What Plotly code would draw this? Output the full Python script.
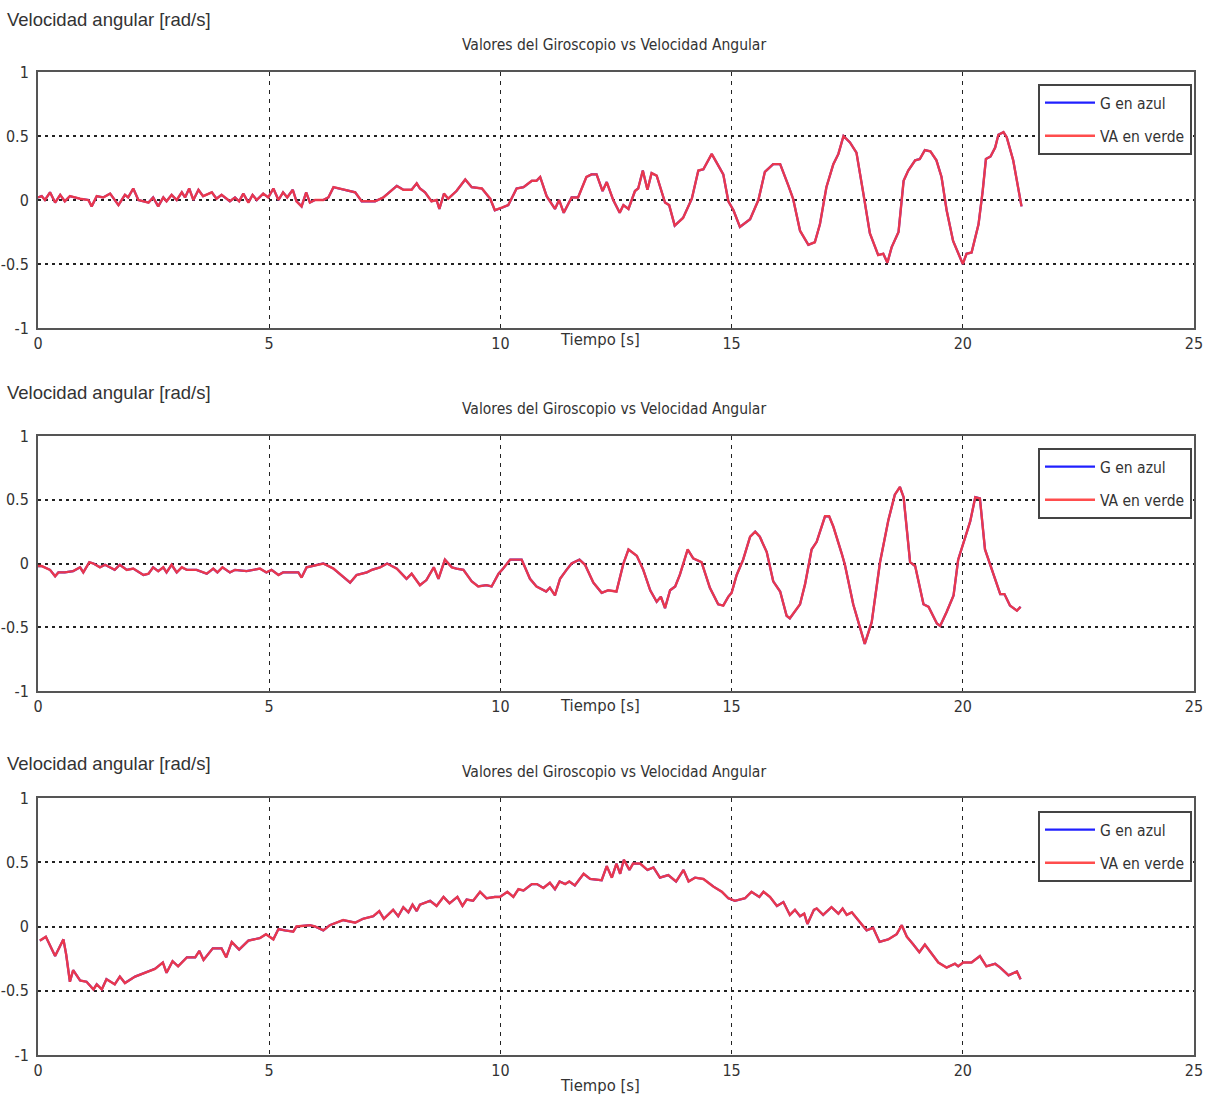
import plotly.graph_objects as go

# ---------------- data (time in s, angular velocity in rad/s) ----------------
t1 = [0.0, 0.08, 0.15, 0.26, 0.37, 0.48, 0.58, 0.69, 0.91, 1.09, 1.16, 1.27, 1.41, 1.56, 1.74,
      1.88, 1.95, 2.06, 2.17, 2.39, 2.49, 2.60, 2.71, 2.78, 2.89, 3.00, 3.11, 3.18, 3.27, 3.36,
      3.47, 3.57, 3.76, 3.86, 3.97, 4.15, 4.26, 4.35, 4.44, 4.55, 4.64, 4.73, 4.87, 4.98, 5.09,
      5.20, 5.30, 5.39, 5.51, 5.59, 5.70, 5.80, 5.88, 5.99, 6.17, 6.28, 6.39, 6.60, 6.86, 7.00,
      7.29, 7.47, 7.61, 7.76, 7.90, 8.08, 8.19, 8.26, 8.37, 8.51, 8.62, 8.68, 8.78, 8.87, 9.05,
      9.24, 9.38, 9.60, 9.78, 9.88, 10.03, 10.17, 10.35, 10.50, 10.68, 10.78, 10.86, 11.00,
      11.18, 11.27, 11.37, 11.54, 11.68, 11.86, 11.97, 12.08, 12.21, 12.30, 12.44, 12.58,
      12.66, 12.77, 12.91, 12.98, 13.08, 13.18, 13.27, 13.38, 13.56, 13.65, 13.77, 13.95,
      14.14, 14.28, 14.39, 14.57, 14.68, 14.82, 14.93, 15.04, 15.18, 15.40, 15.58, 15.72,
      15.90, 16.05, 16.23, 16.33, 16.48, 16.66, 16.80, 16.91, 17.05, 17.20, 17.31, 17.42,
      17.56, 17.70, 17.85, 17.99, 18.17, 18.28, 18.37, 18.46, 18.61, 18.72, 18.82, 18.97,
      19.07, 19.18, 19.30, 19.43, 19.54, 19.65, 19.79, 19.90, 20.00, 20.08, 20.19, 20.34,
      20.43, 20.50, 20.60, 20.70, 20.77, 20.88, 20.95, 21.09, 21.27]
va1 = [0.02, 0.03, 0.0, 0.06, -0.02, 0.04, -0.01, 0.03, 0.01, 0.0, -0.05, 0.03, 0.02, 0.05, -0.04,
       0.04, 0.02, 0.09, 0.0, -0.02, 0.02, -0.05, 0.02, -0.01, 0.04, 0.0, 0.06, 0.02, 0.09, 0.0,
       0.08, 0.03, 0.06, 0.01, 0.04, -0.01, 0.02, -0.01, 0.05, -0.02, 0.04, 0.0, 0.05, 0.02, 0.09,
       0.0, 0.06, 0.02, 0.08, -0.01, -0.05, 0.06, -0.02, 0.0, 0.0, 0.02, 0.10, 0.08, 0.06, -0.01,
       -0.01, 0.02, 0.06, 0.11, 0.08, 0.08, 0.13, 0.09, 0.06, -0.01, 0.0, -0.07, 0.05, 0.01, 0.07,
       0.16, 0.10, 0.09, 0.01, -0.08, -0.06, -0.04, 0.09, 0.10, 0.15, 0.15, 0.18, 0.03,
       -0.07, 0.0, -0.10, 0.02, 0.02, 0.18, 0.20, 0.20, 0.07, 0.14, 0.0, -0.10,
       -0.04, -0.07, 0.07, 0.09, 0.23, 0.08, 0.21, 0.19, -0.02, -0.04, -0.20, -0.14,
       0.01, 0.23, 0.24, 0.36, 0.29, 0.20, -0.01, -0.08, -0.21, -0.15, 0.0, 0.22,
       0.28, 0.28, 0.11, 0.01, -0.24, -0.35, -0.33, -0.19, 0.10, 0.28, 0.36, 0.50,
       0.45, 0.37, 0.05, -0.26, -0.43, -0.42, -0.49, -0.37, -0.25, 0.15, 0.23, 0.31,
       0.32, 0.39, 0.38, 0.31, 0.18, -0.08, -0.32, -0.41, -0.50, -0.42, -0.41, -0.19,
       0.07, 0.32, 0.34, 0.41, 0.51, 0.53, 0.49, 0.31, -0.05]
g1 = va1

t2 = [0.0, 0.08, 0.26, 0.37, 0.44, 0.58, 0.76, 0.91, 0.98, 1.11, 1.20, 1.34, 1.45, 1.66, 1.77,
      1.92, 2.06, 2.28, 2.39, 2.49, 2.60, 2.71, 2.78, 2.89, 3.00, 3.11, 3.22, 3.43, 3.65, 3.79,
      3.88, 3.99, 4.15, 4.26, 4.51, 4.80, 4.94, 5.05, 5.20, 5.30, 5.63, 5.70, 5.81, 5.95, 6.17,
      6.39, 6.60, 6.75, 6.89, 7.11, 7.22, 7.40, 7.55, 7.76, 7.97, 8.08, 8.26, 8.40, 8.56, 8.66,
      8.80, 8.95, 9.05, 9.20, 9.38, 9.52, 9.70, 9.81, 9.96, 10.06, 10.21, 10.35, 10.46, 10.64,
      10.78, 10.99, 11.07, 11.18, 11.29, 11.43, 11.54, 11.71, 11.83, 12.01, 12.19, 12.33,
      12.51, 12.66, 12.77, 12.95, 13.09, 13.24, 13.38, 13.47, 13.56, 13.67, 13.78, 13.88,
      14.05, 14.17, 14.35, 14.53, 14.71, 14.82, 14.93, 15.00, 15.11, 15.25, 15.40, 15.51,
      15.61, 15.76, 15.90, 16.05, 16.19, 16.26, 16.48, 16.59, 16.73, 16.84, 17.02, 17.11,
      17.20, 17.38, 17.45, 17.63, 17.78, 17.88, 18.03, 18.21, 18.39, 18.53, 18.64, 18.72,
      18.86, 18.97, 19.15, 19.26, 19.44, 19.51, 19.65, 19.80, 19.90, 20.01, 20.16, 20.27,
      20.37, 20.48, 20.59, 20.81, 20.90, 21.02, 21.17, 21.25]
va2 = [-0.02, -0.02, -0.05, -0.10, -0.07, -0.07, -0.06, -0.03, -0.07, 0.01, 0.0, -0.03, -0.01,
       -0.05, -0.01, -0.05, -0.04, -0.09, -0.08, -0.03, -0.06, -0.03, -0.07, -0.01, -0.07, -0.03,
       -0.05, -0.05, -0.08, -0.04, -0.07, -0.03, -0.07, -0.05, -0.06, -0.04, -0.07, -0.05, -0.09,
       -0.07, -0.07, -0.11, -0.03, -0.02, 0.0, -0.04, -0.10, -0.15, -0.09, -0.07, -0.05, -0.03,
       0.0, -0.04, -0.12, -0.08, -0.17, -0.13, -0.03, -0.12, 0.03, -0.03, -0.04, -0.05, -0.14,
       -0.18, -0.17, -0.18, -0.08, -0.04, 0.03, 0.03, 0.03, -0.12, -0.18, -0.22, -0.19, -0.25,
       -0.12, -0.05, 0.0, 0.03, -0.01, -0.15, -0.23, -0.21, -0.22, 0.0, 0.11, 0.06, -0.05,
       -0.21, -0.30, -0.26, -0.35, -0.21, -0.18, -0.09, 0.11, 0.04, 0.01, -0.19, -0.32, -0.33,
       -0.26, -0.23, -0.09, 0.03, 0.21, 0.25, 0.21, 0.09, -0.14, -0.22, -0.41, -0.43, -0.32,
       -0.16, 0.11, 0.17, 0.37, 0.37, 0.29, 0.08, -0.01, -0.32, -0.51, -0.63, -0.46, 0.01,
       0.34, 0.54, 0.60, 0.52, 0.01, -0.02, -0.32, -0.34, -0.47, -0.49, -0.38, -0.25, 0.03,
       0.15, 0.33, 0.52, 0.51, 0.11, -0.01, -0.24, -0.24, -0.33, -0.37, -0.34]
g2 = va2

t3 = [0.04, 0.17, 0.37, 0.55, 0.61, 0.66, 0.69, 0.76, 0.91, 1.05, 1.20, 1.27, 1.38, 1.48, 1.66,
      1.77, 1.88, 2.10, 2.31, 2.53, 2.70, 2.78, 2.91, 3.03, 3.22, 3.40, 3.49, 3.58, 3.78, 3.97,
      4.07, 4.19, 4.35, 4.55, 4.80, 4.93, 5.09, 5.20, 5.34, 5.52, 5.59, 5.88, 5.99, 6.17, 6.31,
      6.60, 6.86, 7.03, 7.25, 7.38, 7.48, 7.68, 7.79, 7.90, 8.01, 8.10, 8.19, 8.26, 8.48, 8.62,
      8.77, 8.90, 9.07, 9.18, 9.27, 9.41, 9.56, 9.70, 9.88, 9.99, 10.15, 10.28, 10.39, 10.50,
      10.68, 10.79, 10.93, 11.07, 11.18, 11.28, 11.40, 11.49, 11.61, 11.80, 11.94, 12.19,
      12.30, 12.41, 12.51, 12.59, 12.67, 12.79, 12.87, 13.02, 13.18, 13.31, 13.45, 13.63,
      13.80, 13.96, 14.07, 14.21, 14.39, 14.61, 14.79, 14.93, 15.07, 15.29, 15.43, 15.60,
      15.69, 15.83, 15.98, 16.12, 16.26, 16.37, 16.48, 16.57, 16.64, 16.78, 16.84, 16.98,
      17.16, 17.31, 17.40, 17.49, 17.60, 17.74, 17.92, 18.06, 18.20, 18.39, 18.57, 18.68,
      18.79, 18.93, 19.06, 19.18, 19.29, 19.47, 19.65, 19.83, 19.90, 20.01, 20.19, 20.37,
      20.51, 20.70, 20.81, 20.99, 21.17, 21.25]
va3 = [-0.11, -0.08, -0.23, -0.10, -0.22, -0.34, -0.43, -0.34, -0.42, -0.43, -0.49, -0.45, -0.49,
       -0.41, -0.45, -0.39, -0.44, -0.39, -0.36, -0.33, -0.28, -0.36, -0.27, -0.31, -0.24, -0.24,
       -0.19, -0.26, -0.17, -0.17, -0.24, -0.12, -0.18, -0.11, -0.09, -0.06, -0.10, -0.02, -0.03,
       -0.04, 0.0, 0.01, 0.0, -0.03, 0.01, 0.05, 0.03, 0.06, 0.08, 0.12, 0.06, 0.13, 0.08, 0.15,
       0.11, 0.17, 0.12, 0.17, 0.20, 0.16, 0.23, 0.18, 0.23, 0.16, 0.21, 0.20, 0.27, 0.22, 0.23,
       0.23, 0.27, 0.23, 0.29, 0.28, 0.33, 0.33, 0.30, 0.34, 0.29, 0.35, 0.33, 0.35, 0.32, 0.41,
       0.37, 0.36, 0.47, 0.38, 0.49, 0.41, 0.52, 0.44, 0.49, 0.49, 0.44, 0.46, 0.38, 0.40, 0.35,
       0.44, 0.35, 0.38, 0.37, 0.31, 0.27, 0.22, 0.20, 0.22, 0.27, 0.23, 0.27, 0.23, 0.16, 0.19,
       0.09, 0.13, 0.08, 0.10, 0.02, 0.13, 0.14, 0.09, 0.15, 0.10, 0.14, 0.09, 0.11, 0.05, -0.03,
       -0.01, -0.12, -0.10, -0.06, 0.01, -0.08, -0.14, -0.20, -0.14, -0.19, -0.28, -0.32, -0.29,
       -0.31, -0.28, -0.28, -0.23, -0.31, -0.29, -0.32, -0.38, -0.35, -0.41]
g3 = va3

x_ticks = [0, 5, 10, 15, 20, 25]
y_ticks = [-1, -0.5, 0, 0.5, 1]
y_tick_text = ["-1", "-0.5", "0", "0.5", "1"]
titulo = "Valores del Giroscopio vs Velocidad Angular"
etiqueta_y = "Velocidad angular [rad/s]"
etiqueta_x = "Tiempo [s]"
nombres = ["G en azul", "VA en verde"]

# ---------------- layout geometry (pixels) ----------------
W, H = 1209, 1098
X0, X1 = 38, 1194
paneles = [(72, 328), (436, 691), (798, 1055)]
titulo_y = [45, 409, 772]
etiqueta_y_pos = [20, 392, 763]
etiqueta_x_pos = [340, 705, 1085]
leyenda_top = [84, 448, 811]

NARROW = "Liberation Sans Narrow, DejaVu Sans Condensed, Liberation Sans, Arial, sans-serif"
SANS = "Liberation Sans, Arial, sans-serif"
TXT = "#333333"


def px(xp):
    return xp / W


def py(yp):
    return 1 - yp / H


fig = go.Figure()
series = [(t1, g1, va1), (t2, g2, va2), (t3, g3, va3)]
for i, (t, g, va) in enumerate(series):
    n = "" if i == 0 else str(i + 1)
    fig.add_trace(go.Scatter(
        x=t, y=g, name=nombres[0], mode="lines",
        line=dict(color="#2020ff", width=2.2),
        xaxis="x" + n, yaxis="y" + n, legend="legend" + n, legendgroup=f"g{i}"))
    fig.add_trace(go.Scatter(
        x=t, y=va, name=nombres[1], mode="lines",
        line=dict(color="#ff3a3a", width=2.4), opacity=0.9,
        xaxis="x" + n, yaxis="y" + n, legend="legend" + n, legendgroup=f"va{i}"))

layout = dict(
    width=W, height=H, margin=dict(l=0, r=0, t=0, b=0, autoexpand=False),
    paper_bgcolor="white", plot_bgcolor="white", showlegend=True,
    font=dict(family=NARROW, color=TXT, size=16),
)

annotations = []
for i, (top, bot) in enumerate(paneles):
    n = "" if i == 0 else str(i + 1)
    layout["xaxis" + n] = dict(
        domain=[px(X0), px(X1)], range=[0, 25], anchor="y" + n, automargin=False,
        tickvals=x_ticks, ticks="", showgrid=True, gridcolor="#222222",
        griddash="4px,5px", gridwidth=1, zeroline=False,
        showline=True, linecolor="#555555", linewidth=2, mirror=True,
        tickfont=dict(family=NARROW, size=16, color=TXT), fixedrange=True)
    layout["yaxis" + n] = dict(
        domain=[py(bot), py(top)], range=[-1, 1], anchor="x" + n, automargin=False,
        tickvals=y_ticks, ticktext=y_tick_text, ticks="", showgrid=True,
        gridcolor="#222222", griddash="3px,4px", gridwidth=1.5, zeroline=False,
        showline=True, linecolor="#555555", linewidth=2, mirror=True,
        ticklabelstandoff=4,
        tickfont=dict(family=NARROW, size=16, color=TXT), fixedrange=True)
    layout["legend" + n] = dict(
        x=px(1038), y=py(leyenda_top[i]), xanchor="left", yanchor="top",
        bgcolor="white", bordercolor="#444444", borderwidth=2,
        font=dict(family=NARROW, size=15.5, color=TXT),
        itemwidth=50, tracegroupgap=10)
    annotations.append(dict(
        text=titulo, x=px(614), y=py(titulo_y[i]), xref="paper", yref="paper",
        xanchor="center", yanchor="middle", showarrow=False,
        font=dict(family=NARROW, size=15.5, color=TXT)))
    annotations.append(dict(
        text=etiqueta_y, x=px(5), y=py(etiqueta_y_pos[i]), xref="paper", yref="paper",
        xanchor="left", yanchor="middle", showarrow=False,
        font=dict(family=SANS, size=18.5, color=TXT)))
    annotations.append(dict(
        text=etiqueta_x, x=px(600), y=py(etiqueta_x_pos[i]), xref="paper", yref="paper",
        xanchor="center", yanchor="middle", showarrow=False,
        font=dict(family=NARROW, size=16.5, color=TXT)))

layout["annotations"] = annotations
fig.update_layout(**layout)
fig.write_html("out.html")
